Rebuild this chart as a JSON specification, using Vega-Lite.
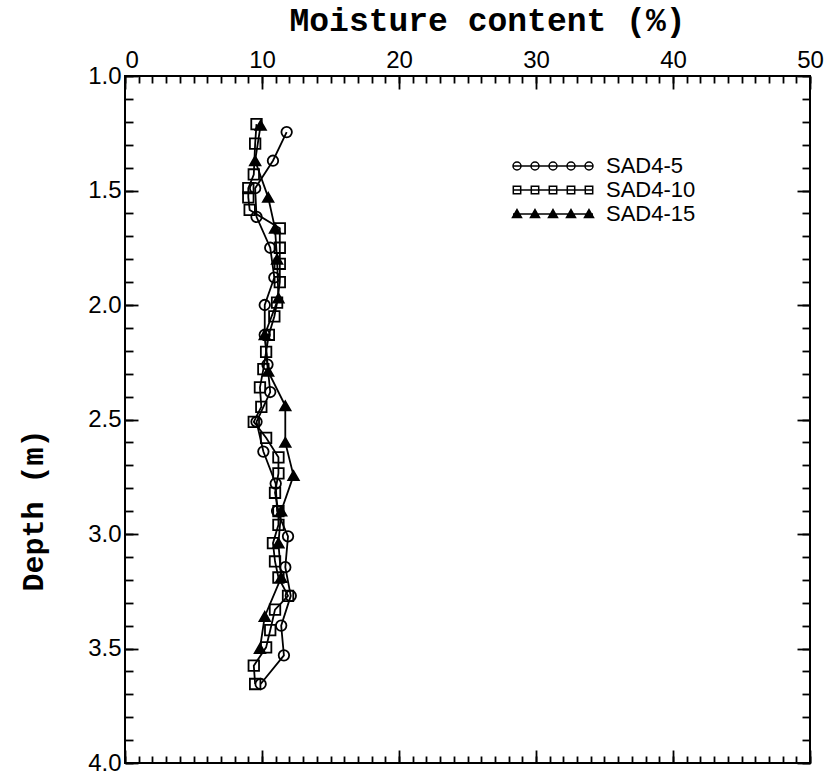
{
  "$schema": "https://vega.github.io/schema/vega-lite/v6.json",
  "width": 685,
  "height": 687,
  "autosize": {"type": "none"},
  "padding": {"left": 125, "top": 76, "right": 20, "bottom": 11},
  "background": "white",
  "config": {
    "view": {"stroke": "black", "strokeWidth": 2},
    "axis": {
      "domain": false,
      "tickColor": "black",
      "tickWidth": 1.8,
      "labelColor": "black",
      "labelFont": "Liberation Sans",
      "labelFontSize": 24,
      "labelFlush": false,
      "labelOverlap": false,
      "grid": false,
      "titleColor": "black",
      "titleFont": "Liberation Mono",
      "titleFontWeight": "bold",
      "titleFontSize": 33
    }
  },
  "resolve": {"axis": {"x": "independent", "y": "independent"}},
  "data": {
    "values": [
      {"profile": "SAD4-5", "depth": 1.245, "moisture": 11.8},
      {"profile": "SAD4-5", "depth": 1.37, "moisture": 10.8},
      {"profile": "SAD4-5", "depth": 1.49, "moisture": 9.5},
      {"profile": "SAD4-5", "depth": 1.615, "moisture": 9.6},
      {"profile": "SAD4-5", "depth": 1.75, "moisture": 10.6},
      {"profile": "SAD4-5", "depth": 1.88, "moisture": 10.9},
      {"profile": "SAD4-5", "depth": 2.0, "moisture": 10.2},
      {"profile": "SAD4-5", "depth": 2.13, "moisture": 10.2},
      {"profile": "SAD4-5", "depth": 2.26, "moisture": 10.4},
      {"profile": "SAD4-5", "depth": 2.38, "moisture": 10.6},
      {"profile": "SAD4-5", "depth": 2.51, "moisture": 9.6},
      {"profile": "SAD4-5", "depth": 2.64, "moisture": 10.1},
      {"profile": "SAD4-5", "depth": 2.78, "moisture": 11.0},
      {"profile": "SAD4-5", "depth": 2.9, "moisture": 11.1},
      {"profile": "SAD4-5", "depth": 3.01, "moisture": 11.9},
      {"profile": "SAD4-5", "depth": 3.145, "moisture": 11.7},
      {"profile": "SAD4-5", "depth": 3.27, "moisture": 12.1},
      {"profile": "SAD4-5", "depth": 3.4, "moisture": 11.4},
      {"profile": "SAD4-5", "depth": 3.53, "moisture": 11.6},
      {"profile": "SAD4-5", "depth": 3.655, "moisture": 9.9},
      {"profile": "SAD4-10", "depth": 1.21, "moisture": 9.6},
      {"profile": "SAD4-10", "depth": 1.295, "moisture": 9.5},
      {"profile": "SAD4-10", "depth": 1.43, "moisture": 9.4},
      {"profile": "SAD4-10", "depth": 1.49, "moisture": 9.0},
      {"profile": "SAD4-10", "depth": 1.53, "moisture": 9.0},
      {"profile": "SAD4-10", "depth": 1.585, "moisture": 9.1},
      {"profile": "SAD4-10", "depth": 1.665, "moisture": 11.3},
      {"profile": "SAD4-10", "depth": 1.75, "moisture": 11.3},
      {"profile": "SAD4-10", "depth": 1.82, "moisture": 11.3},
      {"profile": "SAD4-10", "depth": 1.9, "moisture": 11.3},
      {"profile": "SAD4-10", "depth": 1.99, "moisture": 11.1},
      {"profile": "SAD4-10", "depth": 2.05, "moisture": 10.9},
      {"profile": "SAD4-10", "depth": 2.13, "moisture": 10.5},
      {"profile": "SAD4-10", "depth": 2.205, "moisture": 10.3},
      {"profile": "SAD4-10", "depth": 2.28, "moisture": 10.1},
      {"profile": "SAD4-10", "depth": 2.36, "moisture": 9.85},
      {"profile": "SAD4-10", "depth": 2.445, "moisture": 9.95},
      {"profile": "SAD4-10", "depth": 2.51, "moisture": 9.4},
      {"profile": "SAD4-10", "depth": 2.58, "moisture": 10.3},
      {"profile": "SAD4-10", "depth": 2.665, "moisture": 11.2},
      {"profile": "SAD4-10", "depth": 2.735, "moisture": 11.2},
      {"profile": "SAD4-10", "depth": 2.82, "moisture": 10.95},
      {"profile": "SAD4-10", "depth": 2.9, "moisture": 11.2},
      {"profile": "SAD4-10", "depth": 2.96, "moisture": 11.2},
      {"profile": "SAD4-10", "depth": 3.04, "moisture": 10.8},
      {"profile": "SAD4-10", "depth": 3.12, "moisture": 10.95},
      {"profile": "SAD4-10", "depth": 3.19, "moisture": 11.2},
      {"profile": "SAD4-10", "depth": 3.27, "moisture": 11.9},
      {"profile": "SAD4-10", "depth": 3.33, "moisture": 10.95},
      {"profile": "SAD4-10", "depth": 3.42, "moisture": 10.6},
      {"profile": "SAD4-10", "depth": 3.495, "moisture": 10.3},
      {"profile": "SAD4-10", "depth": 3.575, "moisture": 9.4},
      {"profile": "SAD4-10", "depth": 3.655, "moisture": 9.5},
      {"profile": "SAD4-15", "depth": 1.215, "moisture": 9.9},
      {"profile": "SAD4-15", "depth": 1.37, "moisture": 9.5},
      {"profile": "SAD4-15", "depth": 1.53, "moisture": 10.45},
      {"profile": "SAD4-15", "depth": 1.665, "moisture": 10.95},
      {"profile": "SAD4-15", "depth": 1.8, "moisture": 11.1},
      {"profile": "SAD4-15", "depth": 1.97, "moisture": 11.2},
      {"profile": "SAD4-15", "depth": 2.13, "moisture": 10.2},
      {"profile": "SAD4-15", "depth": 2.29, "moisture": 10.45},
      {"profile": "SAD4-15", "depth": 2.44, "moisture": 11.7},
      {"profile": "SAD4-15", "depth": 2.6, "moisture": 11.7},
      {"profile": "SAD4-15", "depth": 2.745, "moisture": 12.3},
      {"profile": "SAD4-15", "depth": 2.9, "moisture": 11.4},
      {"profile": "SAD4-15", "depth": 3.04, "moisture": 11.2},
      {"profile": "SAD4-15", "depth": 3.19, "moisture": 11.4},
      {"profile": "SAD4-15", "depth": 3.36, "moisture": 10.2},
      {"profile": "SAD4-15", "depth": 3.5, "moisture": 9.85}
    ]
  },
  "layer": [
    {
      "mark": {"type": "line", "color": "black", "strokeWidth": 1.8},
      "encoding": {
        "x": {
          "field": "moisture", "type": "quantitative",
          "scale": {"domain": [0, 50], "nice": false, "zero": false},
          "axis": {
            "orient": "top",
            "title": "Moisture content (%)",
            "titleX": 362,
            "titleY": -56,
            "titleBaseline": "middle",
            "titleAlign": "center",
            "ticks": false,
            "values": [0, 10, 20, 30, 40, 50],
            "labelAlign": {"condition": {"test": "datum.value === 0", "value": "left"}, "value": "center"},
            "labelPadding": 4
          }
        },
        "y": {
          "field": "depth", "type": "quantitative",
          "scale": {"domain": [1, 4], "nice": false, "zero": false, "reverse": true},
          "axis": {
            "orient": "left",
            "title": "Depth (m)",
            "titleX": -92,
            "titleY": 434,
            "titleAngle": -90,
            "titleBaseline": "middle",
            "titleAlign": "center",
            "titleFontSize": 30,
            "format": ".1f",
            "ticks": false,
            "values": [1.0, 1.5, 2.0, 2.5, 3.0, 3.5, 4.0],
            "labelPadding": 4
          }
        },
        "detail": {"field": "profile"},
        "order": {"field": "depth", "type": "quantitative"}
      }
    },
    {
      "mark": {"type": "point", "filled": true, "stroke": "black", "strokeWidth": 1.8, "opacity": 1},
      "encoding": {
        "x": {
          "field": "moisture", "type": "quantitative",
          "axis": {
            "orient": "top", "offset": -687,
            "title": null, "labels": false,
            "values": [0, 10, 20, 30, 40, 50],
            "tickSize": 13
          }
        },
        "y": {
          "field": "depth", "type": "quantitative",
          "axis": {
            "orient": "right", "offset": -685,
            "title": null, "labels": false,
            "values": [1.0, 1.5, 2.0, 2.5, 3.0, 3.5, 4.0],
            "tickSize": 13
          }
        },
        "shape": {
          "field": "profile", "type": "nominal",
          "scale": {"domain": ["SAD4-10", "SAD4-5", "SAD4-15"], "range": ["square", "circle", "triangle-up"]},
          "legend": null
        },
        "fill": {
          "field": "profile", "type": "nominal",
          "scale": {"domain": ["SAD4-5", "SAD4-10", "SAD4-15"], "range": ["transparent", "transparent", "black"]},
          "legend": {
            "orient": "none",
            "legendX": 417,
            "legendY": 79,
            "title": null,
            "padding": 0,
            "labelFont": "Liberation Sans",
            "labelFontSize": 22,
            "labelColor": "black",
            "labelOffset": 42,
            "rowPadding": 2,
            "symbolSize": 400,
            "symbolStrokeWidth": 1.5,
            "symbolStrokeColor": "black",
            "symbolType": {"expr": "datum.value === 'SAD4-5' ? 'M-4,0L4,0M-3.2,0A0.4,0.4,0,1,1,-4,0A0.4,0.4,0,1,1,-3.2,0M-1.4,0A0.4,0.4,0,1,1,-2.2,0A0.4,0.4,0,1,1,-1.4,0M0.4,0A0.4,0.4,0,1,1,-0.4,0A0.4,0.4,0,1,1,0.4,0M2.2,0A0.4,0.4,0,1,1,1.4,0A0.4,0.4,0,1,1,2.2,0M4,0A0.4,0.4,0,1,1,3.2,0A0.4,0.4,0,1,1,4,0' : datum.value === 'SAD4-10' ? 'M-4,0L4,0M-3.97,-0.37L-3.23,-0.37L-3.23,0.37L-3.97,0.37ZM-2.17,-0.37L-1.43,-0.37L-1.43,0.37L-2.17,0.37ZM-0.37,-0.37L0.37,-0.37L0.37,0.37L-0.37,0.37ZM1.43,-0.37L2.17,-0.37L2.17,0.37L1.43,0.37ZM3.23,-0.37L3.97,-0.37L3.97,0.37L3.23,0.37Z' : 'M-4,0L4,0M-3.6,-0.45L-3.15,0.35L-4.05,0.35ZM-1.8,-0.45L-1.35,0.35L-2.25,0.35ZM0,-0.45L0.45,0.35L-0.45,0.35ZM1.8,-0.45L2.25,0.35L1.35,0.35ZM3.6,-0.45L4.05,0.35L3.15,0.35Z'"}
          }
        },
        "size": {"value": 110}
      }
    },
    {
      "mark": {"type": "point", "opacity": 0},
      "encoding": {
        "x": {
          "field": "moisture", "type": "quantitative",
          "axis": {
            "orient": "bottom", "offset": -687,
            "title": null, "labels": false,
            "values": [0, 10, 20, 30, 40, 50],
            "tickSize": 13
          }
        },
        "y": {
          "field": "depth", "type": "quantitative",
          "axis": {
            "orient": "left", "offset": -685,
            "title": null, "labels": false,
            "values": [1.0, 1.5, 2.0, 2.5, 3.0, 3.5, 4.0],
            "tickSize": 13
          }
        }
      }
    },
    {
      "mark": {"type": "point", "opacity": 0},
      "encoding": {
        "x": {
          "field": "moisture", "type": "quantitative",
          "axis": {
            "orient": "bottom", "offset": -687,
            "title": null, "labels": false,
            "values": [0,1,2,3,4,5,6,7,8,9,10,11,12,13,14,15,16,17,18,19,20,21,22,23,24,25,26,27,28,29,30,31,32,33,34,35,36,37,38,39,40,41,42,43,44,45,46,47,48,49,50],
            "tickSize": 7
          }
        },
        "y": {
          "field": "depth", "type": "quantitative",
          "axis": {
            "orient": "left", "offset": -685,
            "title": null, "labels": false,
            "values": [1.0,1.1,1.2,1.3,1.4,1.5,1.6,1.7,1.8,1.9,2.0,2.1,2.2,2.3,2.4,2.5,2.6,2.7,2.8,2.9,3.0,3.1,3.2,3.3,3.4,3.5,3.6,3.7,3.8,3.9,4.0],
            "tickSize": 8
          }
        }
      }
    },
    {
      "mark": {"type": "point", "opacity": 0},
      "encoding": {
        "x": {
          "field": "moisture", "type": "quantitative",
          "axis": {
            "orient": "top", "offset": -687,
            "title": null, "labels": false,
            "values": [0,1,2,3,4,5,6,7,8,9,10,11,12,13,14,15,16,17,18,19,20,21,22,23,24,25,26,27,28,29,30,31,32,33,34,35,36,37,38,39,40,41,42,43,44,45,46,47,48,49,50],
            "tickSize": 7
          }
        },
        "y": {
          "field": "depth", "type": "quantitative",
          "axis": {
            "orient": "right", "offset": -685,
            "title": null, "labels": false,
            "values": [1.0,1.1,1.2,1.3,1.4,1.5,1.6,1.7,1.8,1.9,2.0,2.1,2.2,2.3,2.4,2.5,2.6,2.7,2.8,2.9,3.0,3.1,3.2,3.3,3.4,3.5,3.6,3.7,3.8,3.9,4.0],
            "tickSize": 8
          }
        }
      }
    }
  ]
}
